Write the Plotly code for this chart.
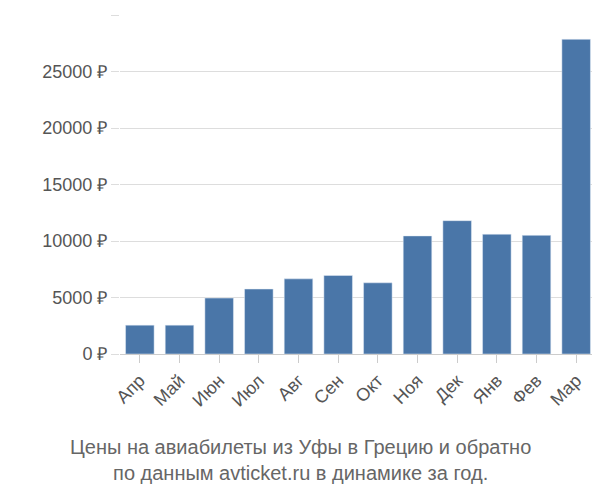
import plotly.graph_objects as go

months = ['Апр', 'Май', 'Июн', 'Июл', 'Авг', 'Сен', 'Окт', 'Ноя', 'Дек', 'Янв', 'Фев', 'Мар']
prices = [2550, 2550, 4950, 5750, 6650, 6950, 6300, 10450, 11800, 10600, 10500, 27850]
tick_vals = [0, 5000, 10000, 15000, 20000, 25000, 30000]
tick_text = [f'{v} ₽' for v in tick_vals]

fig = go.Figure()
fig.add_trace(go.Bar(x=months, y=prices, marker=dict(color='#4a76a8'), width=0.72))

fig.update_layout(
    width=592, height=492,
    margin=dict(l=112, r=4, t=7, b=146),
    plot_bgcolor='white', paper_bgcolor='white',
    font=dict(family='Liberation Sans, Arial', size=18, color='#555'),
    showlegend=False,
    xaxis=dict(tickangle=-45, showline=True, linecolor='#ccc', ticks='outside',
               tickcolor='#ccc', ticklen=8),
    yaxis=dict(range=[0, 30000], tickvals=tick_vals, ticktext=tick_text,
               gridcolor='#ddd', zeroline=False, ticks='outside', tickcolor='#ddd', ticklen=8),
    annotations=[dict(
        text='Цены на авиабилеты из Уфы в Грецию и обратно<br>по данным avticket.ru в динамике за год.',
        x=(292 - 112) / 476, xref='paper', xanchor='center',
        y=-0.235, yref='paper', yanchor='top',
        showarrow=False, font=dict(size=20, color='#666'),
    )],
)

fig.write_html('out.html')
